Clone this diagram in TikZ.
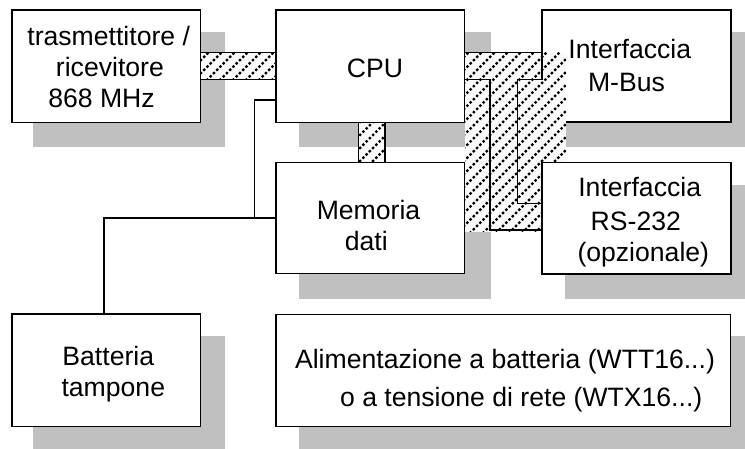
\documentclass[tikz,border=0pt]{standalone}
\usepackage{fontspec}
\setmainfont{Liberation Sans}
\definecolor{shadowgray}{RGB}{192,192,192}
\definecolor{hatchbg}{RGB}{250,250,250}
\newcommand{\hatchfill}[2]{%
  \begin{scope}
    \clip #1 rectangle #2;
    \fill[hatchbg] #1 rectangle #2;
    \foreach \k in {-460,-447,...,760} {\draw[hatchline] (\k,448) -- ++(448,-448);}
  \end{scope}}
\begin{document}
\begin{tikzpicture}[x=1pt,y=-1pt,
  box/.style={draw, line width=1.3pt, fill=white, rectangle, inner sep=0pt, outer sep=0pt, anchor=north west},
  lbl/.style={anchor=base, inner sep=0pt, font=\fontsize{26.6}{30}\selectfont},
  wire/.style={line width=1.3pt},
  hatchline/.style={line width=2.3pt, dash pattern=on 2.4pt off 2.2pt},
  shadowbox/.style={fill=shadowgray},
]
\useasboundingbox (0,0) rectangle (745,448);
% shadows
\fill[shadowbox] (33,32) rectangle (225,147);
\fill[shadowbox] (299,32) rectangle (490.5,147);
\fill[shadowbox] (299,185) rectangle (490.5,299);
\fill[shadowbox] (565,32) rectangle (756,147);
\fill[shadowbox] (565,185) rectangle (756,299);
\fill[shadowbox] (33,336) rectangle (225,460);
\fill[shadowbox] (299,336) rectangle (756,460);
% boxes
\node[box, minimum width=188.5pt, minimum height=112.5pt] (trx) at (12,10) {};
\node[box, minimum width=188.5pt, minimum height=112.5pt] (cpu) at (276,10) {};
\node[box, minimum width=188.5pt, minimum height=110.5pt] (mem) at (276,162.7) {};
\node[box, minimum width=189pt, minimum height=112pt] (mbus) at (542,10) {};
\node[box, minimum width=188.5pt, minimum height=112.7pt] (bat) at (12,314) {};
\node[box, minimum width=454.7pt, minimum height=112.4pt] (alim) at (276,314.3) {};
% plain wires
\coordinate (j1) at (254.5,100);
\coordinate (j2) at (254.5,218);
\coordinate (j3) at (104,218);
\draw[wire] (cpu.west |- j1) -- (j1) -- (j2) -- (mem.west |- j2);
\draw[wire] (j2) -- (j3) -- (bat.north -| j3);
% hatched bus trx - cpu
\coordinate (b1) at (200.5,52.3);
\coordinate (b2) at (276,79.3);
\hatchfill{(trx.east |- b1)}{(cpu.west |- b2)}
\draw[wire] (trx.east |- b1) rectangle (cpu.west |- b2);
% hatched bus cpu - mem
\coordinate (c1) at (358.3,122.5);
\coordinate (c2) at (385,162.7);
\hatchfill{(c1 |- cpu.south)}{(c2 |- mem.north)}
\draw[wire] (c1 |- cpu.south) rectangle (c2 |- mem.north);
% big hatched bus
\hatchfill{(465,52.7)}{(566,231.7)}
\node[box, minimum width=189pt, minimum height=111.3pt] (rs) at (542,162.7) {};
\coordinate (d0) at (465,52.7);
\coordinate (d1) at (517.3,79.3);
\coordinate (d2) at (490,230);
\coordinate (d3) at (517.3,203.3);
\draw[wire] (cpu.east |- d0) -- (mbus.west |- d0) -- (mbus.west |- d1) -- (d1) -- (d3) -- (rs.west |- d3);
\draw[wire] (cpu.east |- d1) -- (d2 |- d1) -- (d2) -- (rs.west |- d2);
% labels
\node[lbl] (t1) at (108.7,45.7) {trasmettitore /};
\node[lbl] (t2) at (109.9,76) {ricevitore};
\node[lbl] (t3) at (101.5,107.3) {868 MHz};
\node[lbl] (t4) at (375,77.3) {CPU};
\node[lbl] (t5) at (368.5,219.3) {Memoria};
\node[lbl] (t6) at (366.3,250.7) {dati};
\node[lbl] (t7) at (629.8,58.3) {Interfaccia};
\node[lbl] (t8) at (626.5,91.7) {M-Bus};
\node[lbl] (t9) at (639.7,196.7) {Interfaccia};
\node[lbl] (t10) at (635.8,230) {RS-232};
\node[lbl] (t11) at (643.3,261) {(opzionale)};
\node[lbl] (t12) at (108.3,365) {Batteria};
\node[lbl] (t13) at (113.3,396.7) {tampone};
\node[lbl] (t14) at (505,368.3) {Alimentazione a batteria (WTT16...)};
\node[lbl] (t15) at (521.2,406.7) {o a tensione di rete (WTX16...)};
\end{tikzpicture}
\end{document}
